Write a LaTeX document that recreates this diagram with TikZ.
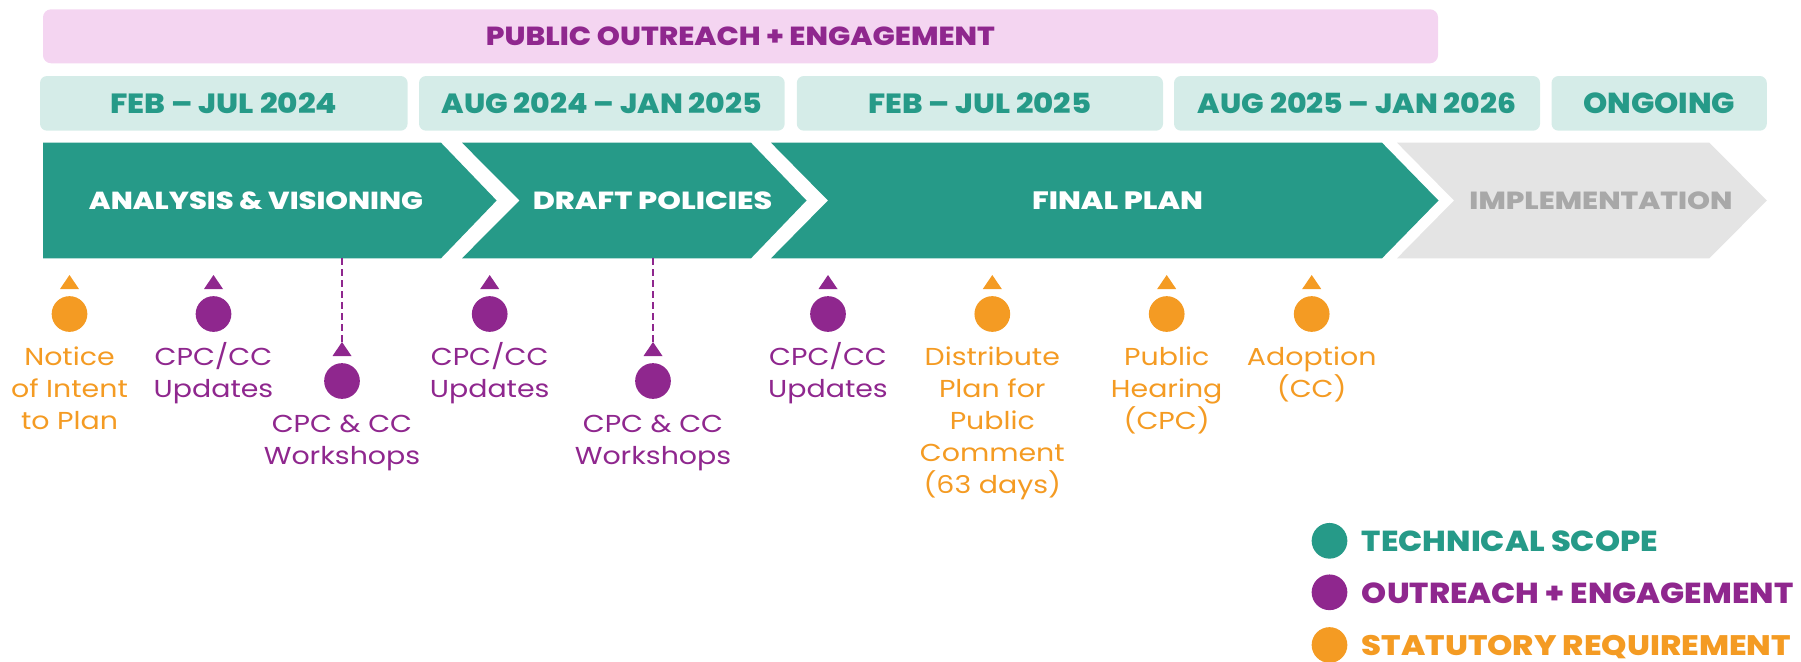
\documentclass[tikz,border=0pt]{standalone}
\usepackage{fontspec}
\setmainfont{Poppins}
\newfontfamily\heavyfont{Poppins ExtraBold}
\newfontfamily\bodyfont[FakeStretch=1.16]{Poppins}
\usepackage{graphicx}
\usetikzlibrary{calc}
\definecolor{cteal}{HTML}{269A88}
\definecolor{clteal}{HTML}{D5ECE8}
\definecolor{cpink}{HTML}{F4D5F1}
\definecolor{cpurple}{HTML}{8F278E}
\definecolor{corange}{HTML}{F49B23}
\definecolor{cgray}{HTML}{E4E4E4}
\definecolor{cgraytext}{HTML}{A8A8A8}
\newcommand\fitcaps[3]{\resizebox{#1pt}{#2pt}{\heavyfont #3}}
\newcommand\mkmarker[4]{%
  \node[dot, fill=#4] (#1) at (#2,#3) {};
  \fill[#4] ($(#1)+(-9.5,-25)$) -- ($(#1)+(0,-39)$) -- ($(#1)+(9.5,-25)$) -- cycle;
  \coordinate (#1-tip) at ($(#1)+(0,-39)$);
}
\begin{document}
\begin{tikzpicture}[x=1pt,y=-1pt,
  pinkbar/.style={fill=cpink, rounded corners=8pt, minimum width=1395pt, minimum height=54pt, inner sep=0pt, text=cpurple},
  datebox/.style={fill=clteal, rounded corners=7pt, minimum height=54.7pt, inner sep=0pt, text=cteal},
  chevlabel/.style={anchor=base, inner sep=0pt, text=white},
  dot/.style={circle, minimum size=35.7pt, inner sep=0pt},
  body/.style={font=\bodyfont\fontsize{24.5}{32}\selectfont, align=center, anchor=base, inner sep=0pt},
  dashline/.style={draw=cpurple, line width=1.6pt, dash pattern=on 7pt off 4pt},
  legtext/.style={anchor=base west, inner sep=0pt}]
\useasboundingbox (0,0) rectangle (1801,661);

% top bar
\node[pinkbar] (outreach) at (740.5,36.3) {\fitcaps{509}{18.7}{PUBLIC OUTREACH + ENGAGEMENT}};

% date boxes
\node[datebox, minimum width=367.6pt] (d1) at (223.8,103.35) {\fitcaps{227}{20.7}{FEB – JUL 2024}};
\node[datebox, minimum width=365.7pt] (d2) at (601.85,103.35) {\fitcaps{320}{20.7}{AUG 2024 – JAN 2025}};
\node[datebox, minimum width=366.2pt] (d3) at (979.9,103.35) {\fitcaps{223}{20.7}{FEB – JUL 2025}};
\node[datebox, minimum width=366pt] (d4) at (1357,103.35) {\fitcaps{318}{20.7}{AUG 2025 – JAN 2026}};
\node[datebox, minimum width=215.3pt] (d5) at (1659.15,103.35) {\fitcaps{152}{20.7}{ONGOING}};

% chevrons
\fill[cteal] (43,142.7) -- (441,142.7) -- (496.6,200.5) -- (441,258.3) -- (43,258.3) -- cycle;
\fill[cteal] (462,142.7) -- (751,142.7) -- (806.5,200.5) -- (751,258.3) -- (462,258.3) -- (519.5,200.5) -- cycle;
\fill[cteal] (771,142.7) -- (1382,142.7) -- (1438.5,200.5) -- (1382,258.3) -- (771,258.3) -- (828,200.5) -- cycle;
\fill[cgray] (1397,142.7) -- (1709.4,142.7) -- (1766.8,200.5) -- (1709.4,258.3) -- (1397,258.3) -- (1454,200.5) -- cycle;

\node[chevlabel] (c1) at (256,209.3) {\fitcaps{334}{17.7}{ANALYSIS \& VISIONING}};
\node[chevlabel] (c2) at (652.5,209.3) {\fitcaps{239.4}{17.7}{DRAFT POLICIES}};
\node[chevlabel] (c3) at (1117.6,209.3) {\fitcaps{171}{17.7}{FINAL PLAN}};
\node[chevlabel, text=cgraytext] (c4) at (1601,209.3) {\fitcaps{263}{17.7}{IMPLEMENTATION}};

% markers
\mkmarker{m1}{69.5}{314}{corange}
\mkmarker{m2}{213.5}{314}{cpurple}
\mkmarker{m3}{342}{381}{cpurple}
\mkmarker{m4}{489.7}{314}{cpurple}
\mkmarker{m5}{653}{381}{cpurple}
\mkmarker{m6}{828}{314}{cpurple}
\mkmarker{m7}{992.3}{314}{corange}
\mkmarker{m8}{1166.7}{314}{corange}
\mkmarker{m9}{1311.7}{314}{corange}

\coordinate (w1top) at (342,258.3);
\coordinate (w2top) at (653,258.3);
\draw[dashline] (w1top) -- (m3-tip);
\draw[dashline] (w2top) -- (m5-tip);

% marker labels (anchor = baseline of last line)
\node[body, text=corange] (t1) at (69.5,429) {Notice\\of Intent\\to Plan};
\node[body, text=cpurple] (t2) at (213.5,397) {CPC/CC\\Updates};
\node[body, text=cpurple] (t3) at (342,464.7) {CPC \& CC\\Workshops};
\node[body, text=cpurple] (t4) at (489.7,397) {CPC/CC\\Updates};
\node[body, text=cpurple] (t5) at (653,464.7) {CPC \& CC\\Workshops};
\node[body, text=cpurple] (t6) at (828,397) {CPC/CC\\Updates};
\node[body, text=corange] (t7) at (992.3,493) {Distribute\\Plan for\\Public\\Comment\\(63 days)};
\node[body, text=corange] (t8) at (1166.7,429) {Public\\Hearing\\(CPC)};
\node[body, text=corange] (t9) at (1311.7,397) {Adoption\\(CC)};

% legend
\node[dot, fill=cteal] (l1) at (1329.5,540.8) {};
\node[dot, fill=cpurple] (l2) at (1329.5,592.3) {};
\node[dot, fill=corange] (l3) at (1329.5,645) {};
\node[legtext, text=cteal] (lt1) at (1361.7,551.7) {\fitcaps{296}{20.7}{TECHNICAL SCOPE}};
\node[legtext, text=cpurple] (lt2) at (1361.7,603) {\fitcaps{431.3}{20.7}{OUTREACH + ENGAGEMENT}};
\node[legtext, text=corange] (lt3) at (1361.7,655.7) {\fitcaps{429}{20.2}{STATUTORY REQUIREMENT}};
\end{tikzpicture}
\end{document}
